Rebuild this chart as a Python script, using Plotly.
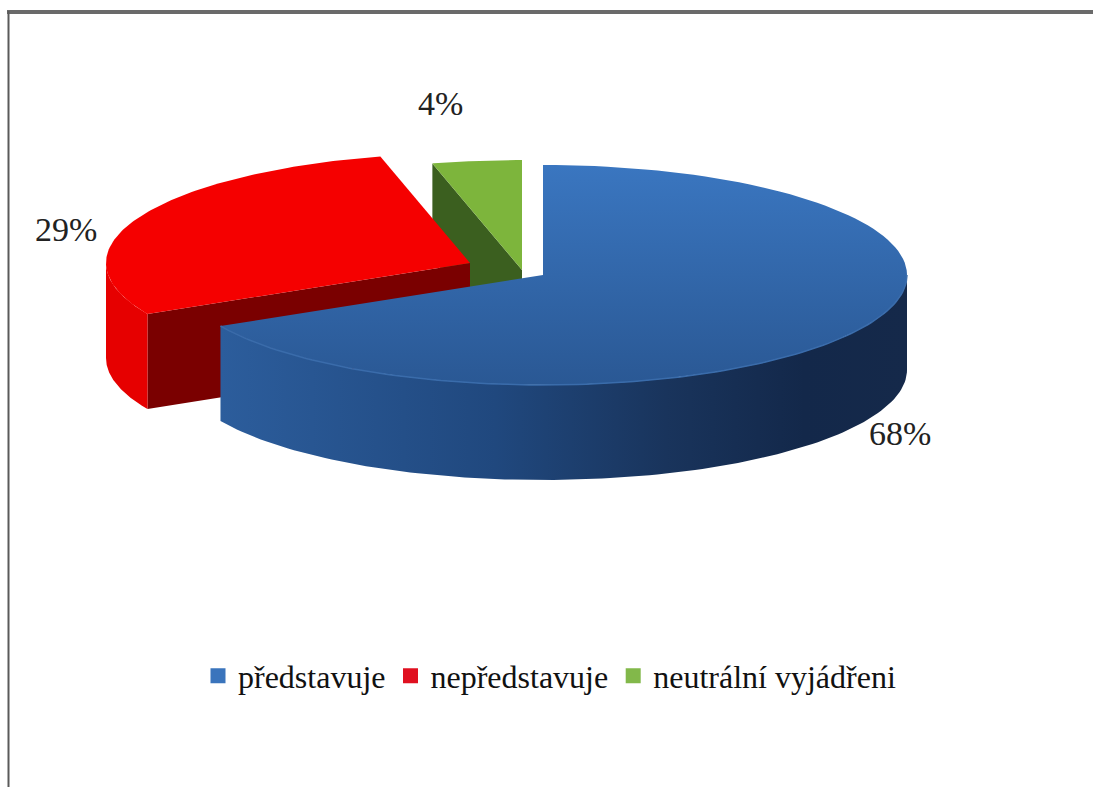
import numpy as np
import plotly.graph_objects as go

# --- data ---
categories = ["představuje", "nepředstavuje", "neutrální vyjádřeni"]
values = [68, 29, 4]
percent_labels = ["68%", "29%", "4%"]

# --- geometry / style ---
W, H = 1093, 787
RX, RY, DEPTH = 364, 110, 95
centers = [(543, 275), (470, 263), (522, 270)]     # exploded slice apexes
label_offsets = [(46, 102), (-72, 11), (-36, -57)]  # from rim point at mid-angle
legend_colors = ["#3a74bc", "#e01020", "#82b84a"]

fractions = np.array(values) / sum(values)
edges = np.concatenate([[0], np.cumsum(fractions)]) * 2 * np.pi


def rim(c, a, b, n=120, drop=0):
    t = np.linspace(a, b, n)
    return c[0] + RX * np.sin(t), c[1] - RY * np.cos(t) + drop


def poly(xs, ys, **style):
    return go.Scatter(x=list(xs), y=list(ys), mode="lines", fill="toself",
                      line=dict(width=0), showlegend=False, hoverinfo="skip", **style)


def top_face(i, **style):
    x, y = rim(centers[i], edges[i], edges[i + 1])
    return poly(np.r_[centers[i][0], x, centers[i][0]], np.r_[centers[i][1], y, centers[i][1]], **style)


def outer_side(i, a, b, **style):
    x, y = rim(centers[i], a, b)
    x2, y2 = rim(centers[i], b, a, drop=DEPTH)
    return poly(np.r_[x, x2, x[0]], np.r_[y, y2, y[0]], **style)


def cut_wall(i, angle, **style):
    c = centers[i]
    rx, ry = rim(c, angle, angle, n=1)
    return poly([c[0], rx[0], rx[0], c[0], c[0]],
                [c[1], ry[0], ry[0] + DEPTH, c[1] + DEPTH, c[1]], **style)


fig = go.Figure()

# green slice
fig.add_trace(cut_wall(2, edges[2], fillcolor="#3b5f1f"))
fig.add_trace(top_face(2, fillcolor="#7db53c"))

# red slice
fig.add_trace(cut_wall(1, edges[1], fillcolor="#7a0000"))
fig.add_trace(outer_side(1, edges[1], 1.5 * np.pi, fillcolor="#e60000"))
fig.add_trace(top_face(1, fillcolor="#f50000"))

# blue slice
fig.add_trace(outer_side(0, np.pi / 2, edges[1], fillgradient=dict(
    type="horizontal",
    colorscale=[[0, "#2c5d9c"], [0.4, "#20487e"], [0.65, "#19345c"],
                [0.85, "#13284a"], [1, "#15294a"]])))
fig.add_trace(top_face(0, fillgradient=dict(
    type="vertical",
    colorscale=[[0, "#2a5894"], [1, "#3a76c0"]])))
hx, hy = rim(centers[0], np.pi / 2, edges[1])
fig.add_trace(go.Scatter(x=hx, y=hy, mode="lines", line=dict(color="#3a6cab", width=1.5),
                         showlegend=False, hoverinfo="skip"))

# legend entries
for name, col in zip(categories, legend_colors):
    fig.add_trace(go.Scatter(x=[None], y=[None], mode="markers", name=name,
                             marker=dict(symbol="square", size=15, color=col)))

# percentage labels
for i, txt in enumerate(percent_labels):
    mid = (edges[i] + edges[i + 1]) / 2
    x0, y0 = rim(centers[i], mid, mid, n=1)
    fig.add_annotation(x=x0[0] + label_offsets[i][0], y=y0[0] + label_offsets[i][1],
                       text=txt, showarrow=False,
                       font=dict(family="Liberation Serif", size=34, color="#222"))

fig.update_layout(
    width=W, height=H, margin=dict(l=0, r=0, t=0, b=0),
    paper_bgcolor="white", plot_bgcolor="white",
    xaxis=dict(range=[0, W], visible=False, fixedrange=True),
    yaxis=dict(range=[H, 0], visible=False, fixedrange=True),
    legend=dict(orientation="h", x=0.5 + 3 / W, xanchor="center", y=1 - 676 / H, yanchor="middle",
                font=dict(family="Liberation Serif", size=32, color="#111"),
                bgcolor="rgba(0,0,0,0)"),
    shapes=[
        dict(type="line", x0=7, x1=W, y0=12, y1=12, line=dict(color="#6a6a6a", width=4)),
        dict(type="line", x0=8.5, x1=8.5, y0=11, y1=H, line=dict(color="#5a5a5a", width=2)),
    ],
)
fig.write_html("out.html", config={"displayModeBar": False},
               post_script="document.documentElement.style.overflow='hidden';document.body.style.margin='0';")
